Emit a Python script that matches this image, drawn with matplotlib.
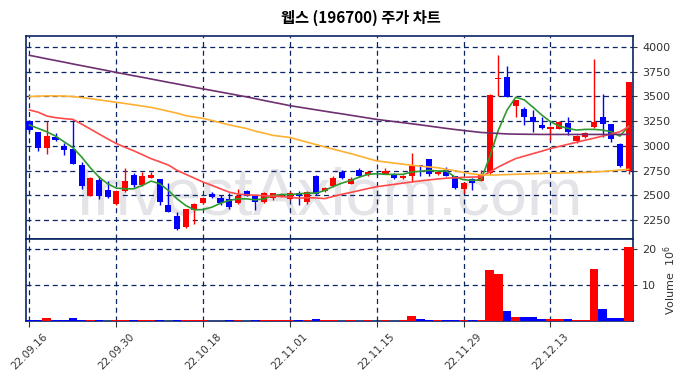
import numpy as np
import matplotlib
matplotlib.use('Agg')
import matplotlib.pyplot as plt

# 캔들 데이터 (시가, 고가, 저가, 종가) - 그림에서 읽은 값
open_ = [3250, 3135, 2979, 3094, 3003, 2965, 2802, 2494, 2650, 2548,
         2409, 2541, 2701, 2599, 2674, 2667, 2406, 2294, 2175, 2352,
         2419, 2508, 2470, 2463, 2419, 2545, 2490, 2430, 2470, 2490,
         2460, 2525, 2436, 2691, 2541, 2592, 2731, 2616, 2752, 2701,
         2728, 2718, 2718, 2674, 2691, 2803, 2864, 2711, 2752, 2691,
         2562, 2667, 2643, 2725, 3674, 3695, 3403, 3372, 3288, 3210,
         3166, 3169, 3227, 3050, 3084, 3186, 3288, 3217, 3023, 2745]
high = [3260, 3140, 3254, 3132, 3030, 3260, 2836, 2680, 2690, 2643,
        2545, 2772, 2720, 2735, 2735, 2667, 2623, 2328, 2365, 2420,
        2478, 2530, 2500, 2520, 2565, 2555, 2495, 2530, 2525, 2518,
        2540, 2540, 2545, 2700, 2580, 2690, 2760, 2680, 2775, 2750,
        2745, 2780, 2725, 2700, 2928, 2810, 2866, 2740, 2790, 2695,
        2630, 2670, 2758, 3520, 3922, 3810, 3465, 3390, 3362, 3294,
        3200, 3250, 3288, 3110, 3140, 3878, 3525, 3220, 3030, 3650]
low = [3140, 2945, 2915, 3050, 2904, 2815, 2565, 2490, 2463, 2475,
       2400, 2535, 2580, 2590, 2670, 2406, 2330, 2148, 2170, 2209,
       2415, 2470, 2405, 2360, 2415, 2490, 2351, 2425, 2455, 2485,
       2455, 2406, 2410, 2500, 2530, 2588, 2665, 2610, 2685, 2698,
       2700, 2710, 2665, 2668, 2633, 2694, 2690, 2700, 2695, 2568,
       2521, 2555, 2640, 2715, 3505, 3495, 3294, 3210, 3135, 3170,
       3057, 3165, 3108, 3025, 3080, 3180, 3084, 3040, 2790, 2718]
close = [3160, 2980, 3104, 3057, 2962, 2820, 2589, 2670, 2497, 2480,
         2538, 2640, 2599, 2691, 2701, 2430, 2335, 2155, 2362, 2413,
         2474, 2480, 2423, 2379, 2490, 2497, 2430, 2525, 2521, 2514,
         2525, 2490, 2535, 2514, 2569, 2670, 2674, 2667, 2694, 2735,
         2718, 2745, 2674, 2694, 2796, 2793, 2718, 2735, 2698, 2575,
         2626, 2623, 2701, 3515, 3684, 3498, 3460, 3294, 3244, 3176,
         3193, 3244, 3142, 3098, 3125, 3244, 3217, 3064, 2796, 3644]
# 거래량 (단위 10^6)
volume = [0.2, 0.2, 0.83, 0.2, 0.15, 0.83, 0.2, 0.15, 0.15, 0.1,
          0.15, 0.15, 0.15, 0.15, 0.15, 0.15, 0.1, 0.15, 0.15, 0.15,
          0.2, 0.1, 0.1, 0.15, 0.15, 0.1, 0.15, 0.15, 0.15, 0.15,
          0.15, 0.15, 0.15, 0.55, 0.15, 0.15, 0.1, 0.15, 0.1, 0.15,
          0.1, 0.15, 0.1, 0.15, 1.4, 0.55, 0.15, 0.15, 0.15, 0.15,
          0.15, 0.15, 0.15, 14.2, 13.1, 2.8, 1.1, 1.1, 1.1, 0.55,
          0.55, 0.55, 0.5, 0.3, 0.3, 14.4, 3.3, 0.8, 0.8, 20.6]

# 이동평균선
ma5 = [3210, 3176, 3142, 3098, 3040, 2982, 2887, 2779, 2684, 2616,
       2572, 2565, 2565, 2599, 2643, 2616, 2548, 2463, 2396, 2352,
       2355, 2379, 2419, 2447, 2463, 2463, 2453, 2463, 2497, 2507,
       2507, 2514, 2521, 2521, 2548, 2589, 2623, 2650, 2684, 2711,
       2718, 2711, 2711, 2711, 2735, 2742, 2752, 2745, 2745, 2684,
       2657, 2650, 2657, 2887, 3159, 3362, 3491, 3464, 3389, 3311,
       3244, 3200, 3176, 3159, 3166, 3166, 3159, 3142, 3098, 3200]
ma20 = [3362, 3340, 3301, 3285, 3275, 3267, 3220, 3170, 3120, 3070,
        3023, 2985, 2950, 2910, 2870, 2838, 2805, 2752, 2712, 2672,
        2633, 2600, 2565, 2531, 2512, 2504, 2500, 2495, 2490, 2487,
        2480, 2470, 2475, 2472, 2466, 2488, 2510, 2528, 2548, 2568,
        2586, 2598, 2610, 2622, 2634, 2645, 2655, 2664, 2672, 2677,
        2681, 2684, 2686, 2735, 2786, 2830, 2871, 2896, 2921, 2946,
        2972, 2993, 3015, 3036, 3057, 3077, 3098, 3120, 3142, 3193]
ma60 = [3498, 3502, 3505, 3505, 3503, 3498, 3488, 3477, 3465, 3452,
        3440, 3428, 3415, 3402, 3389, 3370, 3350, 3330, 3305, 3291,
        3277, 3256, 3234, 3212, 3193, 3175, 3148, 3128, 3106, 3095,
        3084, 3060, 3036, 3012, 2989, 2966, 2943, 2921, 2896, 2871,
        2847, 2836, 2825, 2814, 2803, 2795, 2786, 2778, 2762, 2748,
        2730, 2716, 2706, 2704, 2706, 2709, 2712, 2715, 2718, 2720,
        2723, 2725, 2727, 2729, 2731, 2734, 2740, 2748, 2755, 2762]
ma120 = [3915, 3898, 3880, 3863, 3846, 3828, 3811, 3794, 3777, 3760,
         3742, 3726, 3709, 3693, 3676, 3659, 3642, 3626, 3609, 3592,
         3576, 3560, 3544, 3528, 3511, 3495, 3477, 3459, 3441, 3424,
         3406, 3392, 3378, 3364, 3350, 3336, 3323, 3309, 3295, 3281,
         3267, 3256, 3245, 3234, 3223, 3212, 3200, 3188, 3176, 3165,
         3155, 3145, 3135, 3130, 3125, 3120, 3118, 3117, 3116, 3115,
         3115, 3115, 3115, 3115, 3115, 3115, 3115, 3115, 3115, 3115]

tick_pos = [0, 10, 20, 30, 40, 50, 60]
tick_labels = ['22.09.16', '22.09.30', '22.10.18', '22.11.01',
               '22.11.15', '22.11.29', '22.12.13']

navy = '#0a2464'
up_col = '#ff0000'
down_col = '#0000ff'

fig = plt.figure(figsize=(6.86, 3.78), dpi=100)
ax = fig.add_axes([0.0379, 0.3677, 0.8848, 0.5371])
axv = fig.add_axes([0.0379, 0.1508, 0.8848, 0.2169], sharex=ax)

x = np.arange(len(close))
colors = [up_col if c >= o else down_col for o, c in zip(open_, close)]

# 워터마크
ax.text(0.5, 0.12, 'InvestAxiom.com', transform=ax.transAxes, ha='center',
        va='baseline', fontsize=48, color='#e4e4e8', family='Liberation Sans',
        zorder=0)

# 캔들
ax.vlines(x, low, high, colors=colors, linewidth=1.0, zorder=3)
bottoms = np.minimum(open_, close)
heights = np.maximum(np.abs(np.array(close) - np.array(open_)), 8)
ax.bar(x, heights, bottom=bottoms, width=0.7, color=colors, zorder=4)

# 이동평균
ax.plot(x, ma5, color='#2e9a2e', linewidth=1.2, zorder=5)
ax.plot(x, ma20, color='#ff4a4a', linewidth=1.2, zorder=5)
ax.plot(x, ma60, color='#ffb030', linewidth=1.2, zorder=5)
ax.plot(x, ma120, color='#6e3070', linewidth=1.2, zorder=5)

ax.set_xlim(-0.4, 69.5)
ax.set_ylim(2057, 4111)
ax.set_yticks(np.arange(2250, 4001, 250))
ax.yaxis.tick_right()
ax.tick_params(axis='y', labelsize=8, colors='#333333', length=3)
ax.tick_params(axis='x', labelbottom=False, length=0)
ax.grid(True, linestyle='--', color=navy, linewidth=0.9, dashes=(4, 3))

# 거래량
axv.bar(x, volume, width=1.0, color=colors, zorder=3)
axv.set_ylim(0, 22.8)
axv.set_yticks([10, 20])
axv.yaxis.tick_right()
axv.yaxis.set_label_position('right')
axv.set_ylabel('Volume  $10^6$', fontsize=8, color='#333333', labelpad=4)
axv.tick_params(axis='y', labelsize=8, colors='#333333', length=3)
axv.set_xticks(tick_pos)
axv.set_xticklabels(tick_labels, rotation=45, fontsize=7.5, color='#333333')
axv.tick_params(axis='x', length=4, colors='#333333', labelcolor='#333333')
axv.grid(True, linestyle='--', color=navy, linewidth=0.9, dashes=(4, 3))

for a in (ax, axv):
    for s in a.spines.values():
        s.set_color(navy)
        s.set_linewidth(1.2)
    a.set_axisbelow(True)

fig.text(0.526, 0.952, '웹스 (196700) 주가 차트', ha='center', va='center',
         fontsize=11, fontweight='bold', family=['Noto Sans CJK KR', 'DejaVu Sans'])

fig.savefig('out.png', dpi=100)
